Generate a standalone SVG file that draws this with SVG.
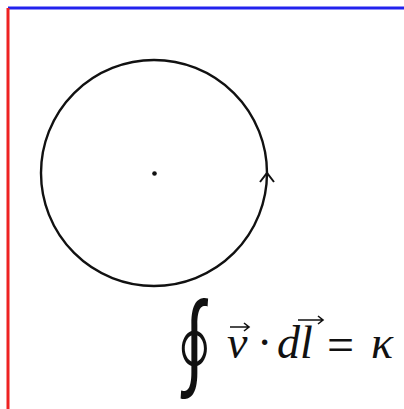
<svg xmlns="http://www.w3.org/2000/svg" width="404" height="409" viewBox="0 0 404 409">
<style>
.ax{fill:none;stroke-width:3}
.m{font-family:"Liberation Serif","DejaVu Serif",serif;fill:#111}
.it{font-style:italic}
.vec{fill:none;stroke:#111;stroke-width:1.6}
</style>
<rect width="404" height="409" fill="#fff"/>
<line class="ax" x1="8" y1="8" x2="404" y2="8" stroke="#2222ee"/>
<line class="ax" x1="8" y1="8" x2="8" y2="409" stroke="#ee2222"/>
<g id="loop">
<circle cx="154" cy="173" r="113" fill="none" stroke="#111" stroke-width="2.4"/>
<path d="M260,182 L267,173 L274,182" fill="none" stroke="#111" stroke-width="2"/>
</g>
<g id="center"><circle cx="154.5" cy="173.5" r="2.3" fill="#111"/></g>
<g id="equation">
<text font-family="'Noto Sans CJK JP',sans-serif" fill="#111" font-size="65" transform="translate(157,389) scale(1.15,1.65)">∮</text>
<text class="m it" x="227" y="358" font-size="46">v</text>
<path class="vec" d="M230,327 L248,327 M244,323 L249,327 L244,331"/>
<text class="m" x="257" y="358" font-size="46">·</text>
<text class="m it" x="277" y="358" font-size="46">d</text>
<text class="m it" x="300" y="358" font-size="46">l</text>
<path class="vec" d="M298,320 L322,320 M318,316 L323,320 L318,324"/>
<text class="m" x="327" y="361" font-size="48">=</text>
<text class="m it" x="371" y="358" font-size="46">κ</text>
</g>
</svg>
